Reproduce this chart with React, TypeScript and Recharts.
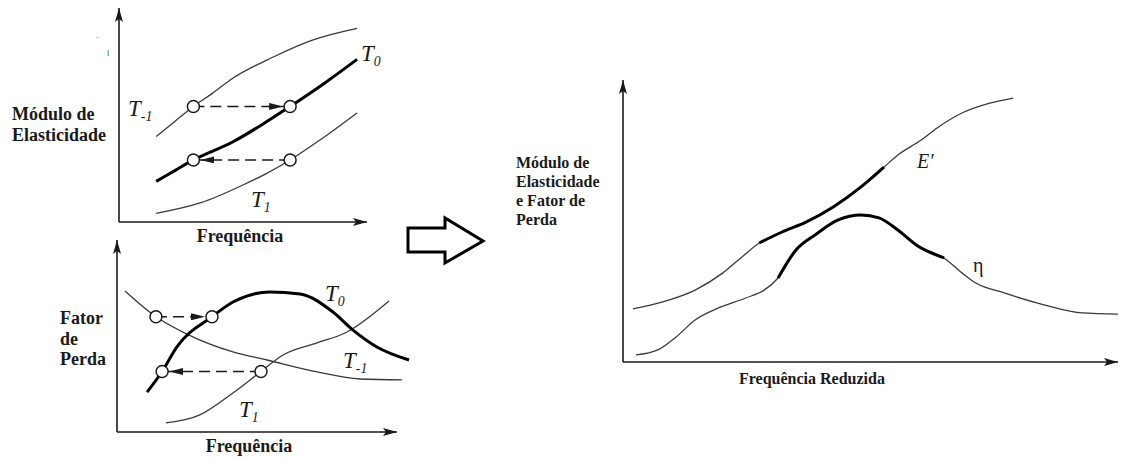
import React from 'react'
import { LineChart, Line, XAxis, YAxis, ReferenceLine, ReferenceDot } from 'recharts'

type Pt = { x: number; y: number }

// Módulo de elasticidade x frequência, três temperaturas (unidades arbitrárias)
const moduloTm1: Pt[] = [
  { x: 15, y: 40 }, { x: 22.5, y: 47 }, { x: 30, y: 54 }, { x: 37.5, y: 60 },
  { x: 45, y: 66.5 }, { x: 62, y: 77 }, { x: 78, y: 85 }, { x: 96, y: 90.5 },
]
const moduloT0: Pt[] = [
  { x: 15, y: 19 }, { x: 22.5, y: 24 }, { x: 30, y: 29 }, { x: 46, y: 37.5 },
  { x: 57, y: 45 }, { x: 69, y: 54 }, { x: 83, y: 65 }, { x: 96, y: 76 },
]
const moduloT1: Pt[] = [
  { x: 15, y: 4 }, { x: 33, y: 9 }, { x: 50, y: 17.3 }, { x: 59, y: 22.4 },
  { x: 69, y: 29 }, { x: 81, y: 38.3 }, { x: 96, y: 51 },
]
const moduloShifts = [
  { from: { x: 30, y: 54 }, to: { x: 69, y: 54 } },
  { from: { x: 69, y: 29 }, to: { x: 30, y: 29 } },
]

// Fator de perda x frequência
const perdaTm1: Pt[] = [
  { x: 2.7, y: 73.4 }, { x: 13.2, y: 60 }, { x: 23.7, y: 51 }, { x: 39.3, y: 41.7 },
  { x: 50.8, y: 37.5 }, { x: 67.8, y: 31.3 }, { x: 82.4, y: 27.6 }, { x: 96.6, y: 27.1 },
]
const perdaT0: Pt[] = [
  { x: 10.2, y: 20.8 }, { x: 15.3, y: 31.5 }, { x: 20.3, y: 44.3 }, { x: 32.2, y: 60 },
  { x: 39.3, y: 67.7 }, { x: 51.9, y: 72.9 }, { x: 62, y: 71.9 }, { x: 73.2, y: 62.5 },
  { x: 80, y: 53.1 }, { x: 88.1, y: 44.3 }, { x: 99, y: 37.5 },
]
const perdaT1: Pt[] = [
  { x: 16.6, y: 4.7 }, { x: 28.1, y: 8.9 }, { x: 39.3, y: 20.3 }, { x: 48.8, y: 31.5 },
  { x: 56.3, y: 40.1 }, { x: 67.8, y: 46.4 }, { x: 78, y: 52.1 }, { x: 92.2, y: 68.2 },
]
const perdaShifts = [
  { from: { x: 13.2, y: 60 }, to: { x: 32.2, y: 60 } },
  { from: { x: 48.8, y: 31.5 }, to: { x: 15.3, y: 31.5 } },
]

// Curvas mestras x frequência reduzida
const curvaE: Pt[] = [
  { x: 2, y: 18.8 }, { x: 8, y: 21.3 }, { x: 14.5, y: 25.5 }, { x: 20.1, y: 31.6 },
  { x: 23.7, y: 36.9 }, { x: 27.4, y: 42.2 }, { x: 32, y: 46.1 }, { x: 36.8, y: 49.6 },
  { x: 42.3, y: 55 }, { x: 47.9, y: 62.1 }, { x: 52.5, y: 69.1 }, { x: 55.3, y: 73.4 },
  { x: 60, y: 78.7 }, { x: 63.2, y: 83 }, { x: 68.2, y: 88.3 }, { x: 73.8, y: 91.8 },
  { x: 78.5, y: 93.6 },
]
const curvaEta: Pt[] = [
  { x: 2.6, y: 2.5 }, { x: 7, y: 4.3 }, { x: 10.7, y: 8.9 }, { x: 14.5, y: 14.9 },
  { x: 19.1, y: 19.1 }, { x: 24.7, y: 22.7 }, { x: 28.4, y: 25.5 }, { x: 31.2, y: 29.8 },
  { x: 34.8, y: 39.7 }, { x: 38.6, y: 45 }, { x: 43.3, y: 50.4 }, { x: 47.9, y: 52.1 },
  { x: 51.5, y: 51.1 }, { x: 55.3, y: 46.8 }, { x: 59, y: 41.5 }, { x: 64.6, y: 36.9 },
  { x: 68.2, y: 31.6 }, { x: 71, y: 28 }, { x: 76.7, y: 24.5 }, { x: 84.9, y: 20.2 },
  { x: 92.4, y: 17.4 }, { x: 99.6, y: 17 },
]
// trechos vindos da temperatura de referência (traço grosso)
const trechoE = curvaE.filter((p) => p.x >= 27.4 && p.x <= 52.5)
const trechoEta = curvaEta.filter((p) => p.x >= 31.2 && p.x <= 64.6)

const SERIF = '"Liberation Serif", "DejaVu Serif", "Times New Roman", serif'
const INK = '#1a1a1a'
const M = 14

type Box = { left: number; top: number; w: number; h: number }

function Markers({ id }: { id: string }) {
  return (
    <defs>
      <marker id={`${id}-axis`} viewBox="0 0 14 8" refX={14} refY={4} markerWidth={14} markerHeight={8}
        orient="auto" markerUnits="userSpaceOnUse">
        <path d="M0,0 L14,4 L0,8 L3,4 z" fill={INK} />
      </marker>
      <marker id={`${id}-shift`} viewBox="0 0 22 7" refX={21} refY={3.5} markerWidth={22} markerHeight={7}
        orient="auto" markerUnits="userSpaceOnUse">
        <path d="M0,0 L14,3.5 L0,7 z" fill={INK} />
      </marker>
    </defs>
  )
}

function axisShape(id: string) {
  return (p: any) => (
    <line x1={p.x1} y1={p.y1} x2={p.x2} y2={p.y2} stroke={INK} strokeWidth={1.6}
      markerEnd={`url(#${id}-axis)`} />
  )
}

function shiftShape(id: string) {
  return (p: any) => (
    <line x1={p.x1} y1={p.y1} x2={p.x2} y2={p.y2} stroke={INK} strokeWidth={1.5}
      strokeDasharray="11 6" markerEnd={`url(#${id}-shift)`} />
  )
}

function Panel({ id, box, xTip, children }: { id: string; box: Box; xTip: number; children: React.ReactNode }) {
  return (
    <div style={{ position: 'absolute', left: box.left - M, top: box.top - M }}>
      <LineChart width={box.w + 2 * M} height={box.h + 2 * M} margin={{ top: M, right: M, bottom: M, left: M }}>
        <Markers id={id} />
        <XAxis type="number" dataKey="x" domain={[0, 100]} hide />
        <YAxis type="number" domain={[0, 100]} hide />
        <ReferenceLine segment={[{ x: 0, y: 0 }, { x: 0, y: 100 }]} ifOverflow="visible" shape={axisShape(id)} />
        <ReferenceLine segment={[{ x: 0, y: 0 }, { x: xTip, y: 0 }]} ifOverflow="visible" shape={axisShape(id)} />
        {children}
      </LineChart>
    </div>
  )
}

function thin(data: Pt[], key: string) {
  return <Line key={key} data={data} dataKey="y" type="monotone" stroke="#3a3a3a" strokeWidth={1.3}
    dot={false} activeDot={false} isAnimationActive={false} />
}
function thick(data: Pt[], key: string) {
  return <Line key={key} data={data} dataKey="y" type="monotone" stroke="#000" strokeWidth={3}
    dot={false} activeDot={false} isAnimationActive={false} />
}

function shifts(id: string, list: { from: Pt; to: Pt }[]) {
  const lines = list.map((s, i) => (
    <ReferenceLine key={`l${i}`} segment={[s.from, s.to]} ifOverflow="visible" shape={shiftShape(id)} />
  ))
  const dots = list.flatMap((s, i) => [s.from, s.to].map((p, j) => (
    <ReferenceDot key={`d${i}${j}`} x={p.x} y={p.y} r={6} fill="#fff" stroke={INK} strokeWidth={1.5}
      ifOverflow="visible" />
  )))
  return [...lines, ...dots]
}

function Temp({ x, y, sub, size = 23 }: { x: number; y: number; sub: string; size?: number }) {
  return (
    <text x={x} y={y} style={{ fontFamily: SERIF, fontStyle: 'italic', fontSize: size }} fill={INK}>
      T<tspan style={{ fontSize: size * 0.6 }} dy={5}>{sub}</tspan>
    </text>
  )
}

function Label({ x, y, size, children, anchor = 'start' }: {
  x: number; y: number; size: number; children: React.ReactNode; anchor?: 'start' | 'middle'
}) {
  return (
    <text x={x} y={y} textAnchor={anchor} fill={INK}
      style={{ fontFamily: SERIF, fontWeight: 700, fontSize: size }}>
      {children}
    </text>
  )
}

function Labels() {
  return (
    <svg width={1121} height={459} style={{ position: 'absolute', left: 0, top: 0, pointerEvents: 'none' }}>
      <text x={96} y={42} fontSize={9} fill="#777">¨</text>
      <rect x={107.5} y={50} width={1.5} height={6} fill="#7fb0d8" />

      <Label size={18} x={12} y={120}>Módulo de</Label>
      <Label size={18} x={12} y={141}>Elasticidade</Label>
      <Label size={18} x={240} y={242} anchor="middle">Frequência</Label>
      <Temp x={361} y={61} sub="0" />
      <Temp x={128} y={116} sub="-1" />
      <Temp x={251} y={207} sub="1" />

      <Label size={18} x={60} y={324}>Fator</Label>
      <Label size={18} x={60} y={345}>de</Label>
      <Label size={18} x={60} y={365}>Perda</Label>
      <Label size={18} x={249} y={452} anchor="middle">Frequência</Label>
      <Temp x={325} y={301} sub="0" />
      <Temp x={343} y={368} sub="-1" />
      <Temp x={239} y={417} sub="1" />

      <polygon points="408,228 445,228 445,218 483,241 445,263 445,252 408,252"
        fill="#fff" stroke="#000" strokeWidth={3} strokeLinejoin="miter" />

      <Label size={16} x={516} y={168}>Módulo de</Label>
      <Label size={16} x={516} y={187}>Elasticidade</Label>
      <Label size={16} x={516} y={206}>e Fator de</Label>
      <Label size={16} x={516} y={225}>Perda</Label>
      <Label size={16} x={812} y={384} anchor="middle">Frequência Reduzida</Label>
      <text x={917} y={168} fill={INK} style={{ fontFamily: SERIF, fontStyle: 'italic', fontSize: 20 }}>E'</text>
      <text x={973} y={272} fill={INK} style={{ fontFamily: SERIF, fontSize: 20 }}>η</text>
    </svg>
  )
}

export default function App() {
  return (
    <div style={{ position: 'absolute', left: 0, top: 0, width: 1121, height: 459, background: '#fff', overflow: 'hidden' }}>
      <Panel id="mod" box={{ left: 119, top: 8, w: 248, h: 214 }} xTip={100}>
        {thin(moduloTm1, 'tm1')}
        {thin(moduloT1, 't1')}
        {thick(moduloT0, 't0')}
        {shifts('mod', moduloShifts)}
      </Panel>
      <Panel id="perda" box={{ left: 117, top: 240, w: 295, h: 192 }} xTip={94.9}>
        {thin(perdaTm1, 'tm1')}
        {thin(perdaT1, 't1')}
        {thick(perdaT0, 't0')}
        {shifts('perda', perdaShifts)}
      </Panel>
      <Panel id="mestra" box={{ left: 623, top: 80, w: 497, h: 282 }} xTip={99.6}>
        {thin(curvaE, 'e')}
        {thin(curvaEta, 'eta')}
        {thick(trechoE, 'e0')}
        {thick(trechoEta, 'eta0')}
      </Panel>
      <Labels />
    </div>
  )
}
